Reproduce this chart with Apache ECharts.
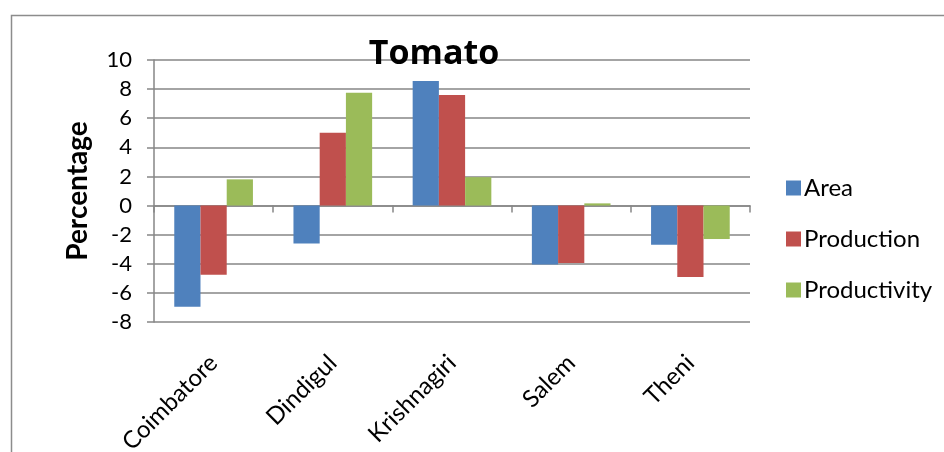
<!DOCTYPE html>
<html>
<head>
<meta charset="utf-8">
<script src="https://cdn.jsdelivr.net/npm/echarts@6/dist/echarts.min.js"></script>
<style>
  html, body { margin: 0; padding: 0; background: #fff; }
  #chart { width: 944px; height: 452px; }
</style>
</head>
<body>
<div id="chart"></div>
<script>
// Percentage change by district for tomato
const districts = ['Coimbatore', 'Dindigul', 'Krishnagiri', 'Salem', 'Theni'];
const area = [-6.95, -2.6, 8.55, -4.05, -2.7];
const production = [-4.75, 5.0, 7.6, -3.95, -4.9];
const productivity = [1.8, 7.75, 1.95, 0.15, -2.3];
const yTicks = [-8, -6, -4, -2, 0, 2, 4, 6, 8, 10];

const FONT = 'Lato';
const GRID_COLOR = '#868686';

const chart = echarts.init(document.getElementById('chart'), null, { renderer: 'canvas' });

function barSeries(name, values, color) {
  return {
    name: name,
    type: 'bar',
    xAxisIndex: 0,
    data: values,
    barGap: '0%',
    barCategoryGap: '34%',
    itemStyle: { color: color },
    emphasis: { disabled: true }
  };
}

chart.setOption({
  animation: false,
  backgroundColor: '#ffffff',
  graphic: [{
    type: 'rect',
    left: 9, top: 13,
    shape: { width: 1000, height: 500 },
    style: { fill: 'none', stroke: '#8c8c8c', lineWidth: 1.5 },
    silent: true
  }],
  title: {
    text: 'Tomato',
    left: 429, top: 32,
    textAlign: 'center',
    textStyle: { fontFamily: 'Open Sans', fontWeight: 'bold', fontSize: 34, color: '#000' }
  },
  legend: {
    orient: 'vertical',
    left: 781, top: 171,
    itemWidth: 15, itemHeight: 15,
    itemGap: 27,
    textStyle: { fontFamily: FONT, fontSize: 24, color: '#000', lineHeight: 22, padding: [0, 0, 0, -2] },
    icon: 'rect',
    data: ['Area', 'Production', 'Productivity']
  },
  grid: { left: 154, right: 194, top: 60, bottom: 130, containLabel: false, outerBoundsMode: 'none' },
  xAxis: [{
    type: 'category',
    data: districts,
    boundaryGap: true,
    axisLine: { show: true, onZero: true, lineStyle: { color: GRID_COLOR, width: 1.5 } },
    axisTick: { show: true, length: 7, alignWithLabel: false, lineStyle: { color: GRID_COLOR, width: 1.5 } },
    axisLabel: { show: false },
    splitLine: { show: false }
  }, {
    type: 'category',
    data: districts,
    position: 'bottom',
    boundaryGap: true,
    axisLine: { show: false, onZero: false },
    axisTick: { show: false },
    axisLabel: { show: true, rotate: 45, margin: 37, interval: 0, fontFamily: FONT, fontSize: 24, color: '#000' },
    splitLine: { show: false }
  }],
  yAxis: {
    type: 'value',
    min: -8, max: 10, interval: 2,
    name: 'Percentage',
    nameLocation: 'middle',
    nameRotate: 90,
    nameGap: 62,
    nameTextStyle: { fontFamily: FONT, fontWeight: 'bold', fontSize: 28, color: '#000' },
    axisLine: { show: true, lineStyle: { color: GRID_COLOR, width: 1.5 } },
    axisTick: { show: true, length: 7, lineStyle: { color: GRID_COLOR, width: 1.5 } },
    axisLabel: {
      margin: 22, fontFamily: FONT, fontSize: 22, color: '#000',
      formatter: function (v) { return yTicks.indexOf(v) >= 0 ? String(v) : ''; }
    },
    splitLine: { show: true, lineStyle: { color: GRID_COLOR, width: 1.5 } }
  },
  series: [
    barSeries('Area', area, '#4F81BD'),
    barSeries('Production', production, '#C0504D'),
    barSeries('Productivity', productivity, '#9BBB59')
  ]
});
</script>
</body>
</html>
